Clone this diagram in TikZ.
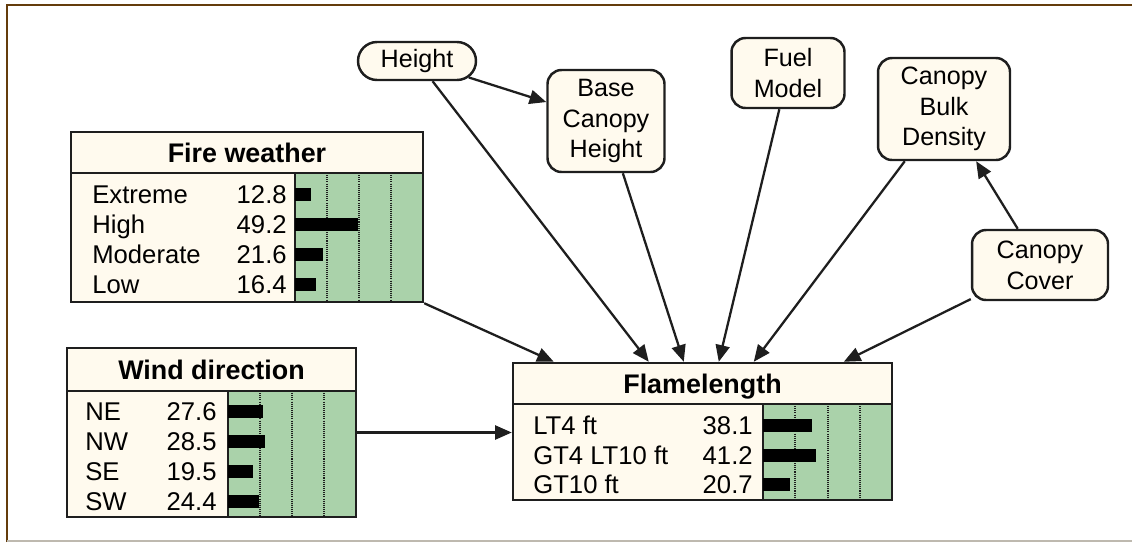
\documentclass[tikz,border=0pt]{standalone}
\usepackage{fontspec}
\setmainfont{Liberation Sans}
\usetikzlibrary{arrows.meta,calc,fit,shapes.misc}

\definecolor{netcream}{RGB}{255,250,238}
\definecolor{netgreen}{RGB}{170,210,170}
\definecolor{netdark}{RGB}{30,30,30}
\definecolor{framebrown}{RGB}{100,60,12}
\definecolor{framegray}{RGB}{190,185,175}

\begin{document}
\begin{tikzpicture}[x=0.02cm, y=-0.02cm,
		netline/.style={draw=netdark, line width=1.4pt},
		netframe/.style={netline, inner sep=0pt},
		scaleline/.style={draw=netdark, dash pattern=on 0.6pt off 0.6pt, line width=0.7pt},
		probbar/.style={fill=black},
		boxtitle/.style={anchor=base, inner sep=0pt, font=\fontsize{15.3}{18}\selectfont\bfseries},
		staterow/.style={inner sep=0pt, font=\fontsize{14.6}{17}\selectfont},
		topnode/.style={netline, fill=netcream, rounded corners=8pt, align=center, inner sep=0pt, font=\fontsize{14.3}{17.5}\selectfont},
		pillnode/.style={netline, fill=netcream, rounded rectangle, inner sep=0pt, font=\fontsize{14.3}{17.5}\selectfont},
		link/.style={draw=netdark, line width=1.3pt, -{Triangle[length=9.5pt,width=8pt]}}]
		\useasboundingbox (0,0) rectangle (1132,542);
		
		% Outer frame
		\draw[framebrown, line width=1.7pt] (7,542) -- (7,5) -- (1132,5);
		\draw[framegray, line width=1pt] (7,541) -- (1132,541);
		
		% Fire weather
		\fill[netcream] (71,132) rectangle (423,302);
		\fill[netgreen] (295,173) rectangle (423,302);
		\draw[scaleline] (327,173) -- (327,302);
		\draw[scaleline] (359,173) -- (359,302);
		\draw[scaleline] (391,173) -- (391,302);
		\draw[netline] (71,173) -- (423,173);
		\draw[netline] (295,173) -- (295,302);
		\node[boxtitle] (fw-title) at (247,162) {Fire weather};
		\node[staterow, anchor=base west] (fw-s1) at (92,203) {Extreme};
		\node[staterow, anchor=base east] (fw-v1) at (287,203) {12.8};
		\node[staterow, anchor=base west] (fw-s2) at (92,233) {High};
		\node[staterow, anchor=base east] (fw-v2) at (287,233) {49.2};
		\node[staterow, anchor=base west] (fw-s3) at (92,263) {Moderate};
		\node[staterow, anchor=base east] (fw-v3) at (287,263) {21.6};
		\node[staterow, anchor=base west] (fw-s4) at (92,293) {Low};
		\node[staterow, anchor=base east] (fw-v4) at (287,293) {16.4};
		\fill[probbar] (295,187.5) rectangle (311.4,200.5);
		\fill[probbar] (295,217.5) rectangle (358.0,230.5);
		\fill[probbar] (295,247.5) rectangle (322.6,260.5);
		\fill[probbar] (295,277.5) rectangle (316.0,290.5);
		\node[netframe, fit={(71,132) (423,302)}] (fire) {};
		
		% Wind direction
		\fill[netcream] (67,348) rectangle (356,517);
		\fill[netgreen] (228,391) rectangle (356,517);
		\draw[scaleline] (260,391) -- (260,517);
		\draw[scaleline] (292,391) -- (292,517);
		\draw[scaleline] (324,391) -- (324,517);
		\draw[netline] (67,391) -- (356,391);
		\draw[netline] (228,391) -- (228,517);
		\node[boxtitle] (wd-title) at (211.5,379) {Wind direction};
		\node[staterow, anchor=base west] (wd-s1) at (85,420) {NE};
		\node[staterow, anchor=base east] (wd-v1) at (217,420) {27.6};
		\node[staterow, anchor=base west] (wd-s2) at (85,450) {NW};
		\node[staterow, anchor=base east] (wd-v2) at (217,450) {28.5};
		\node[staterow, anchor=base west] (wd-s3) at (85,480) {SE};
		\node[staterow, anchor=base east] (wd-v3) at (217,480) {19.5};
		\node[staterow, anchor=base west] (wd-s4) at (85,510) {SW};
		\node[staterow, anchor=base east] (wd-v4) at (217,510) {24.4};
		\fill[probbar] (228,404.5) rectangle (263.3,417.5);
		\fill[probbar] (228,434.5) rectangle (264.5,447.5);
		\fill[probbar] (228,464.5) rectangle (253.0,477.5);
		\fill[probbar] (228,494.5) rectangle (259.2,507.5);
		\node[netframe, fit={(67,348) (356,517)}] (wind) {};
		
		% Flamelength
		\fill[netcream] (513,363) rectangle (892,500);
		\fill[netgreen] (763,404) rectangle (892,500);
		\draw[scaleline] (795,404) -- (795,500);
		\draw[scaleline] (828,404) -- (828,500);
		\draw[scaleline] (860,404) -- (860,500);
		\draw[netline] (513,404) -- (892,404);
		\draw[netline] (763,404) -- (763,500);
		\node[boxtitle] (fl-title) at (702.5,393) {Flamelength};
		\node[staterow, anchor=base west] (fl-s1) at (533,434) {LT4 ft};
		\node[staterow, anchor=base east] (fl-v1) at (753,434) {38.1};
		\node[staterow, anchor=base west] (fl-s2) at (533,464) {GT4 LT10 ft};
		\node[staterow, anchor=base east] (fl-v2) at (753,464) {41.2};
		\node[staterow, anchor=base west] (fl-s3) at (533,493) {GT10 ft};
		\node[staterow, anchor=base east] (fl-v3) at (753,493) {20.7};
		\fill[probbar] (763,418.5) rectangle (812.2,431.5);
		\fill[probbar] (763,448.5) rectangle (816.1,461.5);
		\fill[probbar] (763,477.5) rectangle (789.7,490.5);
		\node[netframe, fit={(513,363) (892,500)}] (flame) {};
		
		% Stand nodes
		\node[pillnode, minimum width=2.36cm, minimum height=0.76cm] (height) at (417,61) {Height};
		\node[topnode, minimum width=2.34cm, minimum height=2.04cm] (bch) at (606,121) {Base\\Canopy\\Height};
		\node[topnode, minimum width=2.26cm, minimum height=1.4cm] (fuel) at (788,73) {Fuel\\Model};
		\node[topnode, minimum width=2.64cm, minimum height=2.04cm] (cbd) at (944,109) {Canopy\\Bulk\\Density};
		\node[topnode, minimum width=2.72cm, minimum height=1.4cm] (cover) at (1040,265) {Canopy\\Cover};
		
		% Arrow ends on top of Flamelength
		\coordinate (fl-a) at ($(flame.north west)+(42,0)$);
		\coordinate (fl-b) at ($(flame.north west)+(137,0)$);
		\coordinate (fl-c) at ($(flame.north west)+(172,0)$);
		\coordinate (fl-d) at ($(flame.north west)+(207,0)$);
		\coordinate (fl-e) at ($(flame.north west)+(242,0)$);
		\coordinate (fl-f) at ($(flame.north west)+(332,0)$);
		
		% Links
		\draw[link] (height) -- (bch);
		\draw[link] (cover) -- (cbd);
		\draw[link] (fire.south east) -- (fl-a);
		\draw[link] (height) -- (fl-b);
		\draw[link] (bch) -- (fl-c);
		\draw[link] (fuel) -- (fl-d);
		\draw[link] (cbd) -- (fl-e);
		\draw[link] (cover) -- (fl-f);
		\draw[link] (wind.east) -- (wind.east -| flame.west);
	\end{tikzpicture}
\end{document}
